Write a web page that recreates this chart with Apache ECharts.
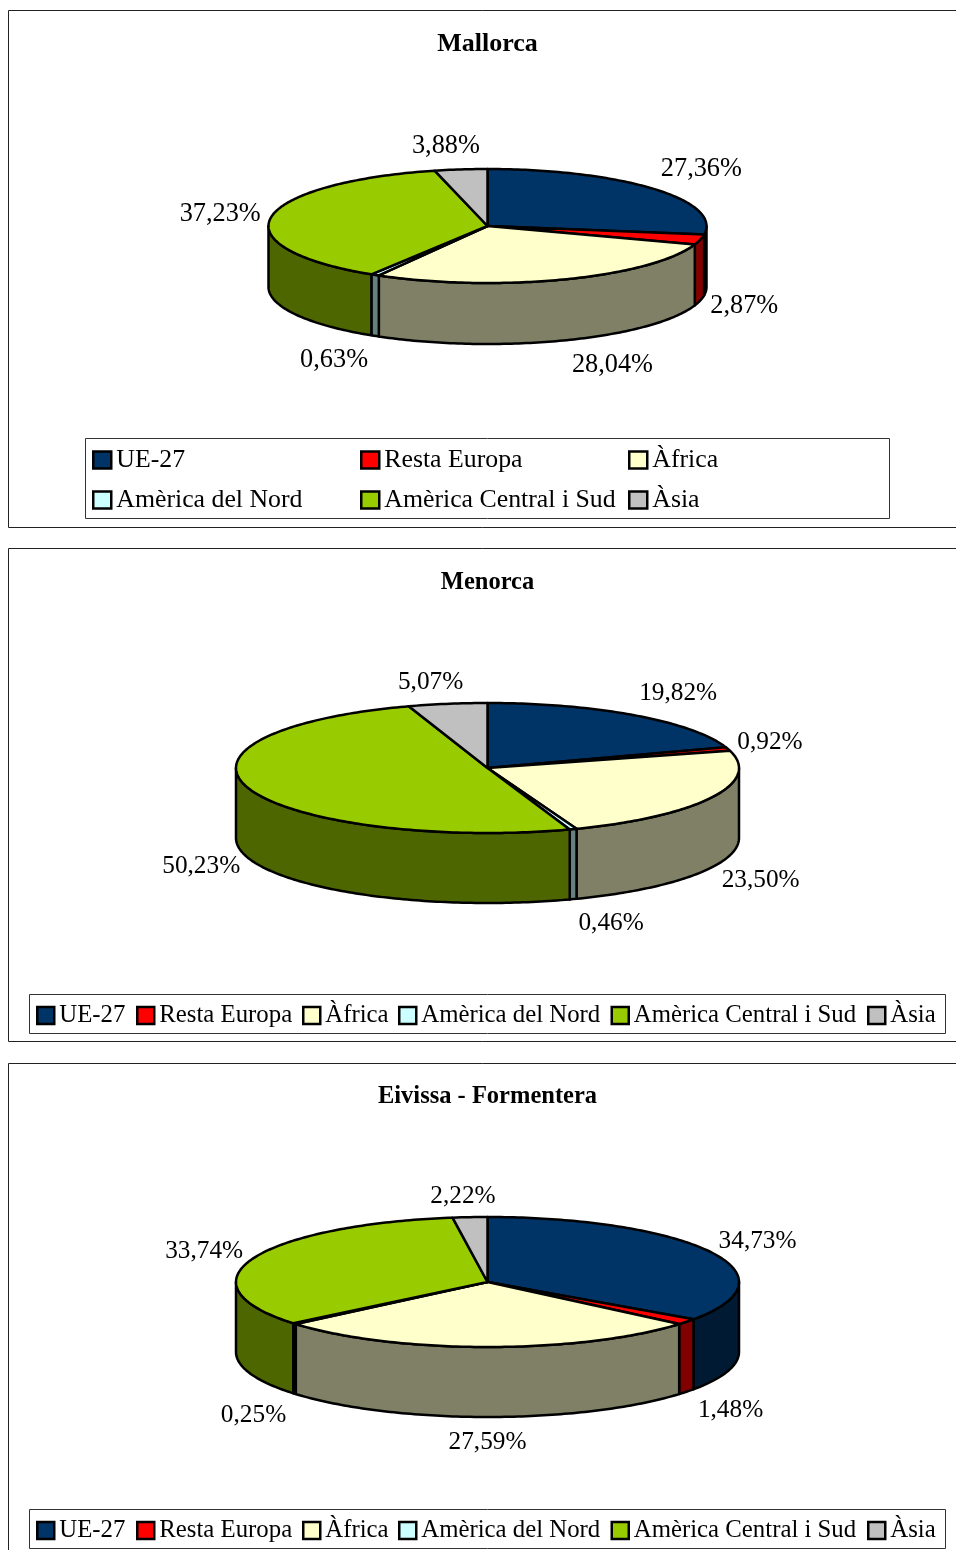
<!DOCTYPE html>
<html><head><meta charset="utf-8">
<style>html,body{margin:0;padding:0;background:#fff}#c{width:956px;height:1550px}</style>
<script src="https://cdn.jsdelivr.net/npm/echarts@6/dist/echarts.min.js"></script>
</head><body><div id="c"></div>
<script>
const categories = ['UE-27','Resta Europa','Àfrica','Amèrica del Nord','Amèrica Central i Sud','Àsia'];
const mallorca = [27.36,2.87,28.04,0.63,37.23,3.88];
const menorca  = [19.82,0.92,23.50,0.46,50.23,5.07];
const eivissa  = [34.73,1.48,27.59,0.25,33.74,2.22];
const titles = ['Mallorca','Menorca','Eivissa - Formentera'];

const topColors  = ['#003366','#FF0000','#FFFFCC','#CCFFFF','#99CC00','#C0C0C0'];
const sideColors = ['#001A33','#800000','#808066','#668080','#4D6600','#606060'];
const FONT = '"Liberation Serif","Times New Roman",serif';

const layout = [
 {values:mallorca, cx:487.5, cy:226, rx:219, ry:57, depth:61, font:26.3, legendFont:25.8, titleFont:26, titleY:44, sw:18,
  frame:[8.5,10.5,1000,517], box:[85.5,438.5,804,80],
  swatch:[[92,447],[360,447],[628,447],[92,487],[360,487],[628,487]],
  nudge:[[48,-20],[44,6],[47.5,25],[-41,24],[-51,-3],[-15,-23]]},
 {values:menorca, cx:487.5, cy:768, rx:251.5, ry:65, depth:70, font:25.3, legendFont:24.8, titleFont:24.5, titleY:583, sw:17,
  frame:[8.5,548.5,1000,493], box:[29.5,994.5,916,39],
  swatch:[[36,1003],[136,1003],[302,1003],[398,1003],[610.5,1003],[867,1003]],
  nudge:[[44,-22],[42,-7],[49,13],[38,24],[-48,8],[-17,-21]]},
 {values:eivissa, cx:487.5, cy:1282, rx:251.5, ry:65, depth:70, font:25.3, legendFont:24.8, titleFont:24.5, titleY:1097, sw:17,
  frame:[8.5,1063.5,1000,600], box:[29.5,1509.5,916,39],
  swatch:[[36,1518],[136,1518],[302,1518],[398,1518],[610.5,1518],[867,1518]],
  nudge:[[47,-11],[44,19],[0,25],[-41,22],[-49,-7],[-7,-21]]}
];

function arcPts(p, t0, t1, dy){
  const n = Math.max(2, Math.ceil(Math.abs(t1-t0)/(Math.PI/180))+1), pts=[];
  for(let i=0;i<n;i++){
    const t = t0+(t1-t0)*i/(n-1);
    pts.push([p.cx+p.rx*Math.sin(t), p.cy-p.ry*Math.cos(t)+dy]);
  }
  return pts;
}
const fmt = v => v.toFixed(2).replace('.',',')+'%';

const series=[], legends=[], graphics=[], titleComps=[];
layout.forEach((p,pi)=>{
  const total = p.values.reduce((a,b)=>a+b,0);
  graphics.push({type:'rect',silent:true,z:-2,shape:{x:p.frame[0],y:p.frame[1],width:p.frame[2],height:p.frame[3]},style:{fill:'#fff',stroke:'#222',lineWidth:1}});
  graphics.push({type:'rect',silent:true,z:-1,shape:{x:p.box[0],y:p.box[1],width:p.box[2],height:p.box[3]},style:{fill:'#fff',stroke:'#333',lineWidth:1}});
  titleComps.push({text:titles[pi],left:487.5,top:p.titleY,textAlign:'center',textVerticalAlign:'middle',padding:0,
    textStyle:{fontFamily:FONT,fontWeight:'bold',fontSize:p.titleFont,color:'#000'}});
  let cum=0;
  p.values.forEach((v,i)=>{
    const start=cum; cum+=v;
    series.push({
      type:'custom', name:categories[i], coordinateSystem:'none', silent:true, animation:false,
      itemStyle:{color:topColors[i]},
      data:[[v]],
      renderItem:(params,api)=>{
        const val=api.value(0);
        const t0=start/total*2*Math.PI, t1=(start+val)/total*2*Math.PI;
        const children=[];
        const a=Math.max(t0,Math.PI/2), b=Math.min(t1,Math.PI*1.5);
        if(b>a){
          const upper=arcPts(p,a,b,0), lower=arcPts(p,b,a,p.depth);
          children.push({type:'polygon',shape:{points:upper.concat(lower)},
            style:{fill:sideColors[i],stroke:'#000',lineWidth:2.5,lineJoin:'round'}});
        }
        children.push({type:'polygon',shape:{points:[[p.cx,p.cy]].concat(arcPts(p,t0,t1,0))},
          style:{fill:topColors[i],stroke:'#000',lineWidth:2.5,lineJoin:'round'}});
        const m=(t0+t1)/2, front=Math.cos(m)<0;
        children.push({type:'text',style:{
          x:p.cx+p.rx*Math.sin(m)+p.nudge[i][0],
          y:p.cy-p.ry*Math.cos(m)+(front?p.depth:0)+p.nudge[i][1],
          text:fmt(val),align:'center',verticalAlign:'middle',
          font:p.font+'px '+FONT,fill:'#000'}});
        return {type:'group',children};
      }
    });
    legends.push({data:[categories[i]],left:p.swatch[i][0],top:p.swatch[i][1],padding:0,
      selectedMode:false,icon:'rect',itemWidth:p.sw,itemHeight:17,
      itemStyle:{borderColor:'#000',borderWidth:2.5},
      textStyle:{fontFamily:FONT,fontSize:p.legendFont,color:'#000',padding:0}});
  });
});

const chart=echarts.init(document.getElementById('c'),null,{renderer:'canvas'});
chart.setOption({animation:false,backgroundColor:'#fff',title:titleComps,legend:legends,series,graphic:{elements:graphics}});
</script></body></html>
